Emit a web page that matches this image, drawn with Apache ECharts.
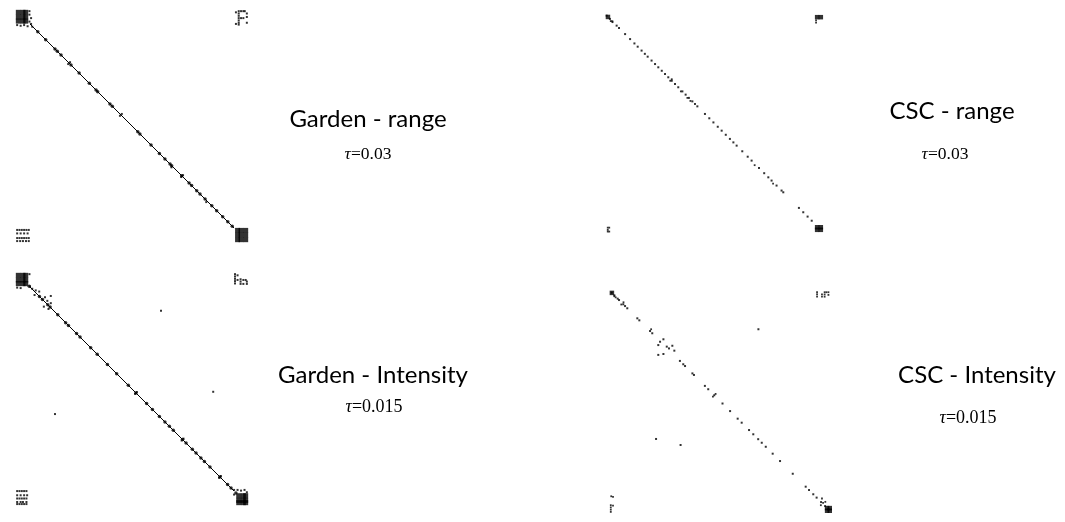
<!DOCTYPE html>
<html><head><meta charset="utf-8">
<script src="https://cdn.jsdelivr.net/npm/echarts@6/dist/echarts.min.js"></script>
<style>html,body{margin:0;padding:0;background:#fff}#c{width:1065px;height:522px}</style>
</head><body><div id="c"></div>
<script>
// ---- Panel labels ----
const panelTitles = ['Garden - range', 'CSC - range', 'Garden - Intensity', 'CSC - Intensity'];
const panelTaus = ['0.03', '0.03', '0.015', '0.015'];

// ---- Garden - range (matrix units 0..100) ----
const gardenRangeLine = [6, 94];
const gardenRangeDiag = [9.4, 12.8, 16.8, 17.8, 19.4, 23.7, 27.2, 31.6, 34.5, 35.2, 40.5, 41.5, 52.5, 53.4, 58.2, 61.8, 64.2, 66.4, 67.1, 71.4, 74.6, 75.7, 77.9, 79.3, 81.5, 84.4, 86.5, 89.1, 91.3, 93.2];
const gardenRangeBlocks = [[1,1],[3,1],[4.2,1],[1,3],[3,3],[4.2,3],[1,4.8],[3,4.8],[4.2,4.8],
  [95.5,95],[97,95],[99,95],[95.5,97],[97,97],[99,97],[95.5,99],[97,99],[99,99]];
const gardenRangePixels = [[5.8,0.5],[5.8,2],[6.5,3.5],[5.8,5],[6.5,6],[0.5,6.5],[2,6.8],[3.5,6.5],[5,7],[7,7.2],
  [96,0.5],[96,1.5],[96,2.5],[96,3.5],[96,4.5],[96,5.5],[96,6.3],[94.8,1],[94.8,6],[97,0.5],[98,0.5],[98.6,0.5],[97,3.5],[98,3.5],[99.5,1.5],[99.5,3],[99.5,5.5],
  [0.5,94.8],[1.5,94.8],[2.5,94.8],[3.5,94.8],[4.5,94.8],[5.5,94.8],[0.5,96.3],[2,96.3],[3.5,96.3],[5,96.3],
  [0.5,98.3],[1.5,98.3],[2.5,98.3],[3.5,98.3],[4.5,98.3],[5.5,98.3],[0.5,99.6],[1.8,99.6],[3,99.6],[4.3,99.6],[5.5,99.6],
  [22.5,23.3],[23.3,22.5],[44.8,45.6],[45.6,44.8],[67,67.8],[71.2,72],[72,71.2],[82,82.8]];
const gardenRangeOff = [];

// ---- Garden - Intensity ----
const gardenIntLine = [6, 94];
const gardenIntDiag = [5.7, 10.1, 11.4, 13.7, 14.7, 18, 21.4, 22.6, 26.1, 27.6, 32.2, 35, 39.4, 43.4, 48.4, 51.7, 56.3, 58.8, 61.8, 64.2, 66.1, 67.8, 71.8, 73.3, 76, 77.6, 79.7, 81.2, 83.6, 87.9, 91.2, 92.7, 94.8];
const gardenIntBlocks = [[1,1],[3,1],[4.2,1],[1,3],[3,3],[4.2,3],[1,4.6],[3,4.6],[4.2,4.6],
  [96,96],[98,96],[99,96],[96,98],[98,98],[99,98],[96,99],[98,99],[99,99]];
const gardenIntPixels = [[0.5,6.3],[2,6.5],[5.8,0.5],[6,5.8],[7,6.8],[8.5,7.5],[8,9.5],[10,8],[12.5,10.5],[13.5,12],[12,14.5],[15,13],[14,15.5],
  [94.4,0.5],[94.4,1.5],[94.4,2.5],[94.4,3.5],[94.4,4.5],[95.5,1],[95.5,3],[96.8,2.7],[96.8,3.7],[96.8,4.7],[98,3],[99,3],[98,4.7],[99.5,3.7],[99.5,4.7],
  [0.5,94],[1.5,94],[2.5,94],[3.5,94],[4.5,94],[0.5,95.8],[2,95.8],[3.5,95.8],[4.8,95.8],[0.5,97.2],[1.5,97.2],[2.5,97.2],[3.5,97.2],[4.5,97.2],
  [0.5,98.7],[2,98.7],[3,98.7],[4.5,98.7],[0.5,99.6],[1.5,99.6],[2.5,99.6],[3.5,99.6],[4.5,99.6],
  [94,93.5],[95.5,93.5],[97,93.8],[98.5,93.5],[99.5,94.5],[94,95.5],
  [51.3,52.1],[52.1,51.3],[71.4,72.2],[72.2,71.4],[87.5,88.3],[88.3,87.5]];
const gardenIntOff = [[62.5,16.3],[85,51.2],[16.8,60.8],[15,9.9]];

// ---- CSC - range ----
const cscRangeDiag = [0.3, 1.8, 2.9, 4.9, 6.0, 8.8, 11.1, 13.1, 14.6, 16.4, 17.9, 19.2, 21.0, 22.6, 24.1, 25.7, 27.2, 28.7, 30.3, 31.8, 33.3, 35.2, 36.7, 38.2, 39.8, 41.0, 42.1, 45.6, 47.6, 49.5, 51.5, 53.3, 55.2, 57.1, 58.7, 60.2, 62.8, 65.3, 67.1, 70.5, 72.9, 74.8, 76.3, 78.6, 80.9, 81.7, 88.9, 90.9, 92.9, 94.8];
const cscRangeBlocks = [[0.9,0.9],[97.3,1],[99,1],[97.3,97.8],[99,97.8],[97.3,99],[99,99]];
const cscRangePixels = [[2.2,2.8],[3,3.3],[96.8,2.5],[96.8,3.5],[0.8,98],[0.8,99],[0.8,99.8],[1.5,98],[1.5,99.8],
  [29.6,30.3],[30.3,29.6],[34.5,35.2],[37.5,38.2],[38.9,39.6],[68.5,69.2],[77,77.7]];
const cscRangeOff = [];

// ---- CSC - Intensity ----
const cscIntDiag = [1.2, 2.4, 3.9, 4.5, 6.4, 7.2, 8.2, 12.7, 13.6, 18.4, 19.4, 31.8, 33.3, 34.1, 37.4, 38.1, 43.0, 44.5, 47.2, 50.9, 54.3, 57.7, 59.5, 62.8, 64.7, 66.9, 68.5, 70.3, 73.4, 76.7, 82.4, 88.2, 89.7, 91.6, 93.1, 95.1, 96.9, 98.4];
const cscIntBlocks = [[1.3,1.3],[97.8,97.8],[99,97.8],[97.8,99],[99,99]];
const cscIntPixels = [[2.4,2.8],[3,3.3],[93.3,1],[93.3,2],[93.3,3],[95.5,2],[95.5,3],[96.7,1],[97.5,1],[96.7,2],[96.7,3],[98.4,1],[98.4,2.2],
  [1,92.5],[1.8,92.8],[0.8,96.5],[0.8,97.5],[0.8,98.5],[0.8,99.5],[1.8,96.7],
  [95.5,93.5],[97,95],[95,96.5],[96,95.5],[5.5,6.5],[6.5,5.5],[18.9,17.6],[46.6,47.8],[47.8,46.6]];
const cscIntOff = [[22.1,24.7],[22.9,23.2],[24.4,22.1],[25.9,25.4],[26.9,26.2],[28.4,25],[29.3,27.2],[22.1,29.1],[24.4,28.7],
  [67,17.6],[21.1,66.8],[32.1,69.5]];

// ---- build ----
const panels = [
  {grid:{left:16,top:10,width:232,height:232}, line:gardenRangeLine, diag:gardenRangeDiag, blocks:gardenRangeBlocks, pixels:gardenRangePixels, off:gardenRangeOff, dotSize:3.5, dotSym:'circle', blockSize:5, pixSize:2},
  {grid:{left:16,top:273,width:232,height:232}, line:gardenIntLine, diag:gardenIntDiag, blocks:gardenIntBlocks, pixels:gardenIntPixels, off:gardenIntOff, dotSize:3.5, dotSym:'circle', blockSize:5, pixSize:2},
  {grid:{left:606,top:15,width:217,height:217}, line:null, diag:cscRangeDiag, blocks:cscRangeBlocks, pixels:cscRangePixels, off:cscRangeOff, dotSize:2, dotSym:'rect', blockSize:4.5, pixSize:1.8},
  {grid:{left:609,top:290,width:223,height:223}, line:null, diag:cscIntDiag, blocks:cscIntBlocks, pixels:cscIntPixels, off:cscIntOff, dotSize:2, dotSym:'rect', blockSize:4.5, pixSize:1.8}
];
const grids = [], xAxes = [], yAxes = [], series = [];
panels.forEach((p, i) => {
  grids.push(Object.assign({containLabel:false}, p.grid));
  xAxes.push({type:'value', gridIndex:i, min:0, max:100, show:false});
  yAxes.push({type:'value', gridIndex:i, min:0, max:100, inverse:true, show:false});
  const base = {xAxisIndex:i, yAxisIndex:i, silent:true, animation:false};
  if (p.line) series.push(Object.assign({type:'line', data:[[p.line[0],p.line[0]],[p.line[1],p.line[1]]], symbol:'none', lineStyle:{color:'#000', width:1}}, base));
  series.push(Object.assign({type:'scatter', data:p.diag.map(t => [t, t]), symbol:p.dotSym, symbolSize:p.dotSize, itemStyle:{color:'#000'}}, base));
  series.push(Object.assign({type:'scatter', data:p.blocks, symbol:'rect', symbolSize:p.blockSize, itemStyle:{color:'#000'}}, base));
  series.push(Object.assign({type:'scatter', data:p.pixels, symbol:'rect', symbolSize:p.pixSize, itemStyle:{color:'#000'}}, base));
  series.push(Object.assign({type:'scatter', data:p.off, symbol:'rect', symbolSize:2, itemStyle:{color:'#000'}}, base));
});

const titlePos = [[368,119],[952,111],[373,375],[977,375]];
const tauPos = [[368,154],[945,154],[374,407],[968,418]];
const tauSize = [17.5,17.5,18,18];
const titles = [];
panelTitles.forEach((t, i) => {
  titles.push({text:t, left:titlePos[i][0], top:titlePos[i][1]-13, textAlign:'center', padding:0,
    textStyle:{fontFamily:'Lato', fontSize:24, fontWeight:'normal', color:'#000', lineHeight:26}});
  titles.push({text:'{i|τ}=' + panelTaus[i], left:tauPos[i][0], top:tauPos[i][1]-tauSize[i]/2, textAlign:'center', padding:0,
    textStyle:{fontFamily:'Liberation Serif', fontSize:tauSize[i], fontWeight:'normal', color:'#000', lineHeight:tauSize[i],
      rich:{i:{fontFamily:'Liberation Serif', fontStyle:'italic', fontSize:tauSize[i], color:'#000', lineHeight:tauSize[i]}}}});
});

const chart = echarts.init(document.getElementById('c'), null, {renderer:'canvas'});
chart.setOption({animation:false, backgroundColor:'#fff', title:titles, grid:grids, xAxis:xAxes, yAxis:yAxes, series:series});
</script></body></html>
